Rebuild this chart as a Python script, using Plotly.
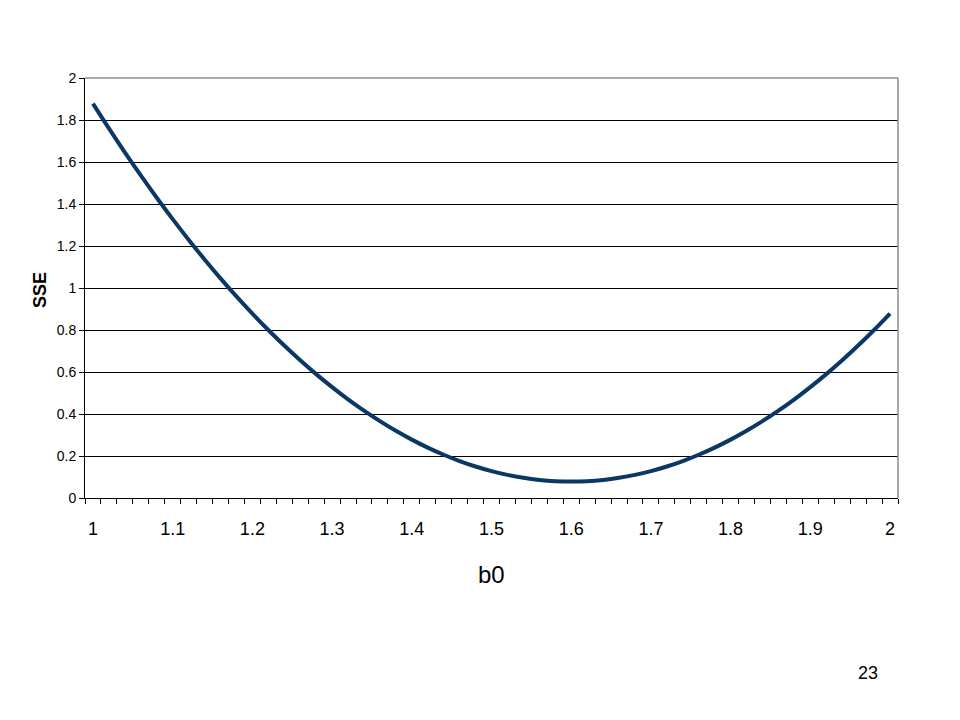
import plotly.graph_objects as go

# b0 values (category axis, step 0.02)
b0 = [1.00, 1.02, 1.04, 1.06, 1.08, 1.10, 1.12, 1.14, 1.16, 1.18,
      1.20, 1.22, 1.24, 1.26, 1.28, 1.30, 1.32, 1.34, 1.36, 1.38,
      1.40, 1.42, 1.44, 1.46, 1.48, 1.50, 1.52, 1.54, 1.56, 1.58,
      1.60, 1.62, 1.64, 1.66, 1.68, 1.70, 1.72, 1.74, 1.76, 1.78,
      1.80, 1.82, 1.84, 1.86, 1.88, 1.90, 1.92, 1.94, 1.96, 1.98, 2.00]
# SSE values
sse = [1.878, 1.760, 1.646, 1.536, 1.430, 1.328, 1.230, 1.136, 1.046, 0.960,
       0.878, 0.800, 0.726, 0.656, 0.590, 0.528, 0.470, 0.416, 0.366, 0.320,
       0.278, 0.240, 0.206, 0.176, 0.150, 0.128, 0.110, 0.096, 0.086, 0.080,
       0.078, 0.080, 0.086, 0.096, 0.110, 0.128, 0.150, 0.176, 0.206, 0.240,
       0.278, 0.320, 0.366, 0.416, 0.470, 0.528, 0.590, 0.656, 0.726, 0.800, 0.878]

x_tickvals = [1.0, 1.1, 1.2, 1.3, 1.4, 1.5, 1.6, 1.7, 1.8, 1.9, 2.0]
x_ticktext = ["1", "1.1", "1.2", "1.3", "1.4", "1.5", "1.6", "1.7", "1.8", "1.9", "2"]
y_tickvals = [0, 0.2, 0.4, 0.6, 0.8, 1.0, 1.2, 1.4, 1.6, 1.8, 2.0]
y_ticktext = ["0", "0.2", "0.4", "0.6", "0.8", "1", "1.2", "1.4", "1.6", "1.8", "2"]

FONT = "Liberation Sans, Arial, sans-serif"

fig = go.Figure()
fig.add_trace(go.Scatter(
    x=b0, y=sse, mode="lines",
    line=dict(color="#0a3764", width=4, shape="spline", smoothing=1.0),
    hoverinfo="skip", showlegend=False,
))

fig.update_layout(
    width=960, height=720,
    paper_bgcolor="white", plot_bgcolor="white",
    margin=dict(l=77, r=70, t=70, b=230),
    font=dict(family=FONT, color="black"),
    showlegend=False,
    xaxis=dict(
        range=[0.99, 2.01],
        tickvals=x_tickvals, ticktext=x_ticktext,
        ticks="", tickfont=dict(size=18, family=FONT),
        showgrid=False, zeroline=False,
        showline=True, linecolor="black", linewidth=1,
        ticklabelstandoff=14,
        minor=dict(tick0=0.99, dtick=0.02, ticks="outside", ticklen=5,
                   tickcolor="black", tickwidth=1, showgrid=False),
    ),
    yaxis=dict(
        range=[0, 2],
        tickvals=y_tickvals, ticktext=y_ticktext,
        ticks="outside", ticklen=5, tickcolor="black", tickwidth=1,
        tickfont=dict(size=14, family=FONT),
        showgrid=True, gridcolor="black", gridwidth=1,
        zeroline=False,
        showline=True, linecolor="black", linewidth=1,
    ),
    shapes=[
        dict(type="line", xref="paper", yref="paper", x0=0, x1=1, y0=1, y1=1,
             line=dict(color="#8c8c8c", width=1.5), layer="above"),
        dict(type="line", xref="paper", yref="paper", x0=1, x1=1, y0=0, y1=1,
             line=dict(color="#8c8c8c", width=1.5), layer="above"),
    ],
    annotations=[
        dict(text="b0", xref="paper", yref="paper", x=0.5, y=-0.183,
             xanchor="center", yanchor="middle", showarrow=False,
             font=dict(size=24, family=FONT)),
        dict(text="<b>SSE</b>", xref="paper", yref="paper", x=-0.0554, y=0.495,
             xanchor="center", yanchor="middle", showarrow=False, textangle=-90,
             font=dict(size=18, family=FONT)),
        dict(text="23", xref="paper", yref="paper", x=0.963, y=-0.4167,
             xanchor="center", yanchor="middle", showarrow=False,
             font=dict(size=18, family=FONT)),
    ],
)

fig.write_html("out.html")
